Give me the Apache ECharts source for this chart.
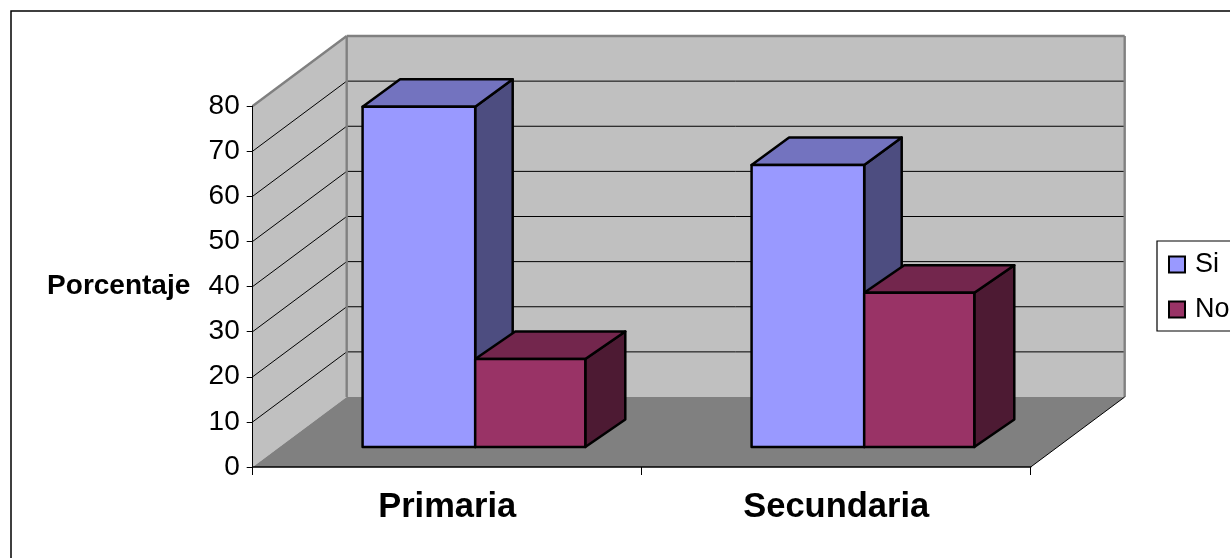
<!DOCTYPE html>
<html>
<head>
<meta charset="utf-8">
<style>html,body{margin:0;padding:0;background:#fff;overflow:hidden}#chart{width:1230px;height:558px}</style>
<script src="https://cdn.jsdelivr.net/npm/echarts@6/dist/echarts.min.js"></script>
</head>
<body>
<div id="chart"></div>
<script>
const categories = ['Primaria', 'Secundaria'];
const si = [75.4, 62.5];
const no = [19.5, 34.2];
const yTicks = [0, 10, 20, 30, 40, 50, 60, 70, 80];

const FONT = '"Liberation Sans", Arial, sans-serif';
const WALL = [94, -70];
const BASE = [28, -20];

const chart = echarts.init(document.getElementById('chart'), null, {renderer: 'canvas'});

function renderWalls(params, api) {
  const cs = params.coordSys;
  const L = cs.x, R = cs.x + cs.width;
  const yAt = v => api.coord([0, v])[1];
  const y0 = yAt(0), yTop = yAt(80);
  const [dx, dy] = WALL;
  const children = [];
  const poly = (points, style) => ({type: 'polygon', shape: {points}, style});
  const line = (x1, y1, x2, y2, stroke, lineWidth) => ({
    type: 'line', shape: {x1, y1, x2, y2}, style: {stroke, lineWidth, fill: null}
  });
  children.push(poly([[L + dx, y0 + dy], [R + dx, y0 + dy], [R + dx, yTop + dy], [L + dx, yTop + dy]], {fill: '#c0c0c0'}));
  children.push(poly([[L, y0], [L + dx, y0 + dy], [L + dx, yTop + dy], [L, yTop]], {fill: '#c0c0c0'}));
  children.push(poly([[L, y0], [L + dx, y0 + dy], [R + dx, y0 + dy], [R, y0]], {fill: '#808080'}));
  yTicks.forEach(v => {
    if (v === 0 || v === 80) return;
    const y = yAt(v);
    children.push(line(L, y, L + dx, y + dy, '#000', 1));
    children.push(line(L + dx, y + dy, R + dx, y + dy, '#000', 1));
  });
  children.push(line(L, yTop, L + dx, yTop + dy, '#808080', 2.4));
  children.push(line(L + dx, yTop + dy, R + dx, yTop + dy, '#808080', 2.4));
  children.push(line(L + dx, yTop + dy, L + dx, y0 + dy, '#808080', 2.4));
  children.push(line(R + dx, yTop + dy, R + dx, y0 + dy, '#808080', 2.4));
  children.push(line(R, y0, R + dx, y0 + dy, '#000', 1));
  return {type: 'group', children};
}

function barRenderer(front, top, side, slot, widthRatio, depth) {
  return function (params, api) {
    const band = api.size([1, 0])[0];
    const idx = api.value(0);
    const c0 = api.coord([idx, 0]);
    const c1 = api.coord([idx, api.value(1)]);
    const w = band * widthRatio;
    const x1 = slot < 0 ? c0[0] - w + BASE[0] : c0[0] + BASE[0];
    const x2 = x1 + w;
    const yb = c0[1] + BASE[1];
    const yt = c1[1] + BASE[1];
    const [dx, dy] = depth;
    const st = fill => ({fill, stroke: '#000', lineWidth: 2.5, lineJoin: 'round'});
    return {
      type: 'group',
      children: [
        {type: 'polygon', shape: {points: [[x2, yb], [x2 + dx, yb + dy], [x2 + dx, yt + dy], [x2, yt]]}, style: st(side)},
        {type: 'polygon', shape: {points: [[x1, yt], [x2, yt], [x2 + dx, yt + dy], [x1 + dx, yt + dy]]}, style: st(top)},
        {type: 'polygon', shape: {points: [[x1, yb], [x2, yb], [x2, yt], [x1, yt]]}, style: st(front)}
      ]
    };
  };
}

chart.setOption({
  animation: false,
  backgroundColor: '#fff',
  graphic: [{
    type: 'rect', z: -10, silent: true,
    shape: {x: 11, y: 11, width: 1300, height: 700},
    style: {fill: '#fff', stroke: '#000', lineWidth: 1.5}
  }],
  grid: {left: 252.7, right: 199.3, top: 106, bottom: 91},
  legend: {
    orient: 'vertical',
    left: 1157, top: 241,
    padding: [10, 60, 8, 11],
    itemWidth: 16, itemHeight: 16, itemGap: 18,
    borderColor: '#000', borderWidth: 1.2, backgroundColor: '#fff',
    textStyle: {fontFamily: FONT, fontSize: 27, color: '#000', padding: [0, 0, 0, 5]},
    data: [
      {name: 'Si', icon: 'rect', itemStyle: {color: '#9999ff', borderColor: '#000', borderWidth: 2}},
      {name: 'No', icon: 'rect', itemStyle: {color: '#993366', borderColor: '#000', borderWidth: 2}}
    ]
  },
  xAxis: {
    type: 'category', data: categories, boundaryGap: true,
    axisLine: {lineStyle: {color: '#000', width: 1.5}},
    axisTick: {show: true, length: 8, alignWithLabel: false, lineStyle: {color: '#000', width: 1}},
    axisLabel: {fontFamily: FONT, fontSize: 34.5, fontWeight: 'bold', color: '#000', margin: 23},
    splitLine: {show: false}, z: 5
  },
  yAxis: {
    type: 'value', min: 0, max: 80, interval: 10,
    name: 'Porcentaje', nameLocation: 'middle', nameRotate: 0, nameGap: 134,
    nameTextStyle: {fontFamily: FONT, fontSize: 28, fontWeight: 'bold', color: '#000', align: 'center', verticalAlign: 'middle', padding: [0, 0, 2, 0]},
    axisLine: {show: true, lineStyle: {color: '#000', width: 1}},
    axisTick: {show: true, length: 6, lineStyle: {color: '#000', width: 1}},
    axisLabel: {fontFamily: FONT, fontSize: 28, color: '#000', margin: 13},
    splitLine: {show: false}, z: 5
  },
  series: [
    {type: 'custom', name: 'walls', z: 1, silent: true, renderItem: renderWalls, data: [[0, 0]], clip: false},
    {type: 'custom', name: 'Si', z: 2, silent: true, renderItem: barRenderer('#9999ff', '#7373bf', '#4d4d80', -1, 0.2895, [37.5, -27.5]),
      itemStyle: {color: '#9999ff'}, encode: {x: 0, y: 1}, data: si.map((v, i) => [i, v])},
    {type: 'custom', name: 'No', z: 3, silent: true, renderItem: barRenderer('#993366', '#73264d', '#4d1a33', 1, 0.283, [40, -27.5]),
      itemStyle: {color: '#993366'}, encode: {x: 0, y: 1}, data: no.map((v, i) => [i, v])}
  ]
});
</script>
</body>
</html>
